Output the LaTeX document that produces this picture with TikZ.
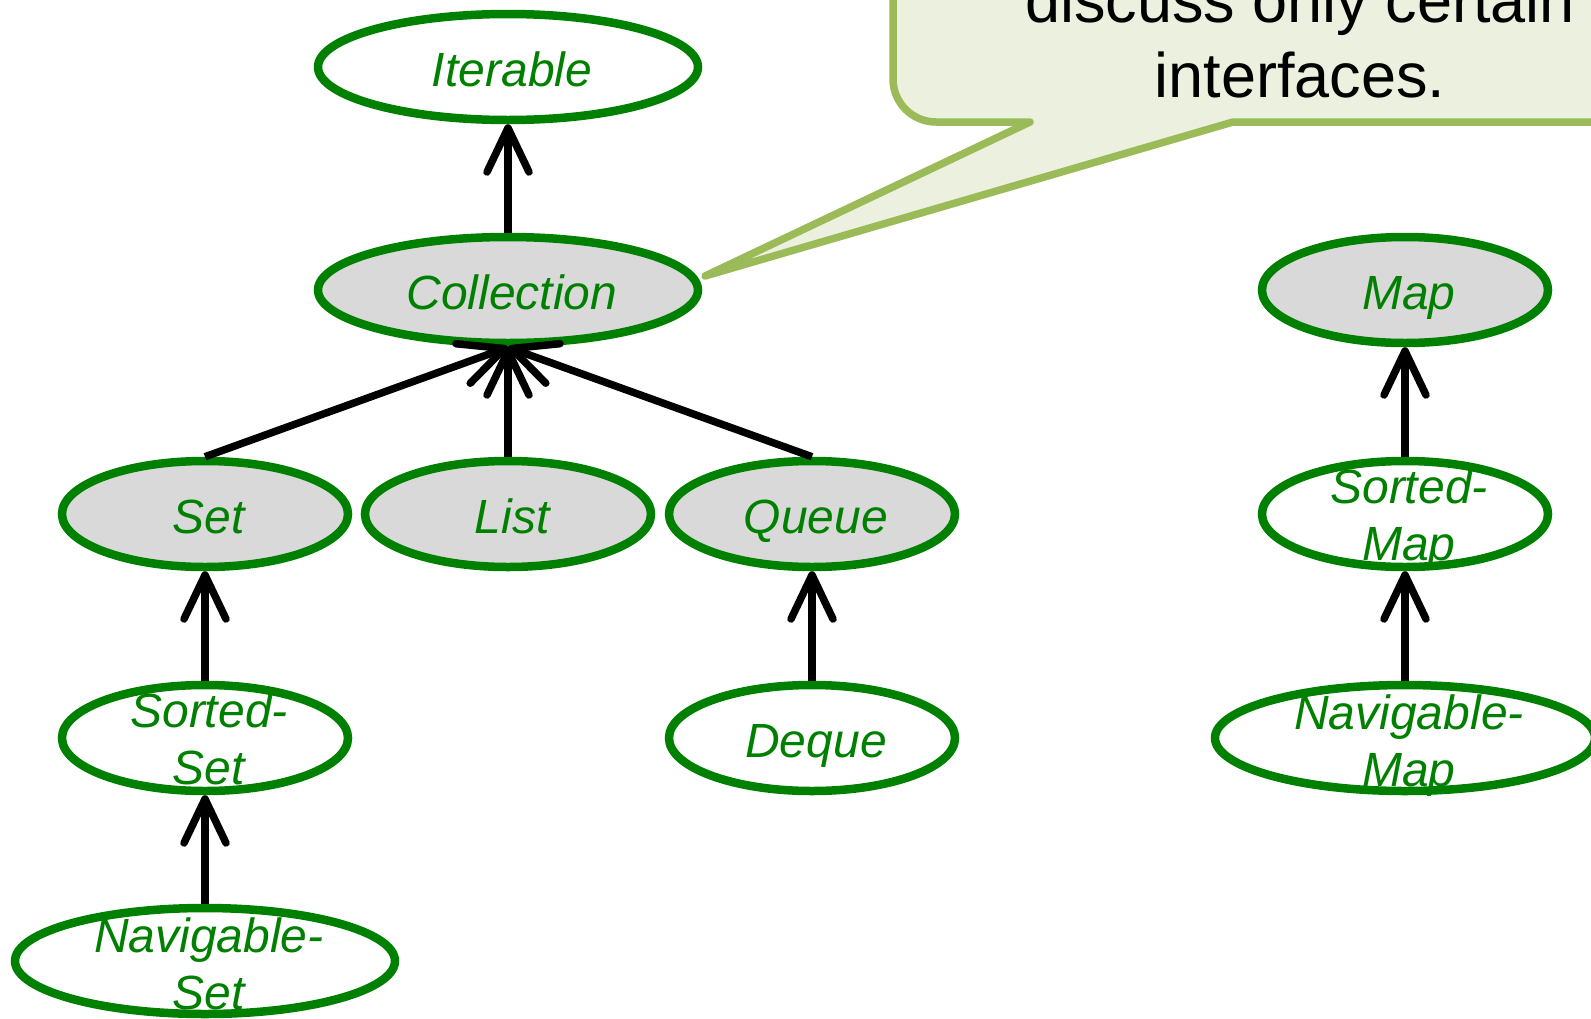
\documentclass[tikz,border=0pt]{standalone}
\usepackage{fontspec}
\setmainfont{Liberation Sans}
\usetikzlibrary{arrows.meta,shapes.geometric,calc}
\definecolor{ngreen}{RGB}{0,128,0}
\definecolor{ngray}{RGB}{217,217,217}
\definecolor{cfill}{RGB}{235,241,222}
\definecolor{cline}{RGB}{155,187,89}
\begin{document}
\begin{tikzpicture}[x=1pt,y=-1pt,
 iface/.style={ellipse, draw=ngreen, line width=8.5pt, fill=white, inner sep=0pt, minimum height=106pt},
 wide/.style={iface, minimum width=380pt},
 mid/.style={iface, minimum width=286pt},
 core/.style={fill=ngray},
 lbl/.style={text=ngreen, font=\fontsize{48}{57}\selectfont\itshape, inner sep=0pt, anchor=base, xshift=4pt},
 inh/.style={line width=7.5pt, -{Straight Barb[length=44pt,width=42pt,line cap=round,line join=round]}},
 callout/.style={draw=cline, fill=cfill, line width=7.5pt, line join=round},
 ctext/.style={font=\fontsize{63}{75}\selectfont, inner sep=0pt, anchor=base},
]
\useasboundingbox (0,0) rectangle (1591,1018);

% callout
\draw[callout] (1233,122) -- (705,276) -- (1030,122) -- (936,122)
  .. controls (912.3,122) and (893,102.7) .. (893,79) -- (893,-400)
  -- (1800,-400) -- (1800,122) -- cycle;
\node[ctext] (note) at (1300,22) {\begin{tabular}[t]{@{}c@{}}discuss only certain\\interfaces.\end{tabular}};

% ellipses
\node[wide] (iter) at (508,67) {};
\node[wide,core] (coll) at (508,290) {};
\node[mid,core] (set) at (205,514) {};
\node[mid,core] (list) at (508,514) {};
\node[mid,core] (queue) at (812,514) {};
\node[mid] (sset) at (205,738) {};
\node[mid] (deque) at (812,738) {};
\node[wide] (nset) at (205,961) {};
\node[mid,core] (map) at (1405,290) {};
\node[mid] (smap) at (1405,514) {};
\node[wide] (nmap) at (1405,738) {};

% labels
\node[lbl] (iterT) at ($(iter)+(0,19)$) {Iterable};
\node[lbl] (collT) at ($(coll)+(0,19)$) {Collection};
\node[lbl] (setT) at ($(set)+(0,19)$) {Set};
\node[lbl] (listT) at ($(list)+(0,19)$) {List};
\node[lbl] (queueT) at ($(queue)+(0,19)$) {Queue};
\node[lbl] (dequeT) at ($(deque)+(0,19)$) {Deque};
\node[lbl] (mapT) at ($(map)+(0,19)$) {Map};
\node[lbl] (ssetT) at ($(sset)+(0,-11)$) {\begin{tabular}[t]{@{}c@{}}Sorted-\\Set\end{tabular}};
\node[lbl] (nsetT) at ($(nset)+(0,-9)$) {\begin{tabular}[t]{@{}c@{}}Navigable-\\Set\end{tabular}};
\node[lbl] (smapT) at ($(smap)+(0,-11)$) {\begin{tabular}[t]{@{}c@{}}Sorted-\\Map\end{tabular}};
\node[lbl] (nmapT) at ($(nmap)+(0,-9)$) {\begin{tabular}[t]{@{}c@{}}Navigable-\\Map\end{tabular}};

% inheritance arrows
\draw[inh] (coll.north) -- (iter.south);
\draw[inh] (set.north) -- (coll.south);
\draw[inh] (list.north) -- (coll.south);
\draw[inh] (queue.north) -- (coll.south);
\draw[inh] (sset.north) -- (set.south);
\draw[inh] (nset.north) -- (sset.south);
\draw[inh] (deque.north) -- (queue.south);
\draw[inh] (smap.north) -- (map.south);
\draw[inh] (nmap.north) -- (smap.south);
\end{tikzpicture}
\end{document}
